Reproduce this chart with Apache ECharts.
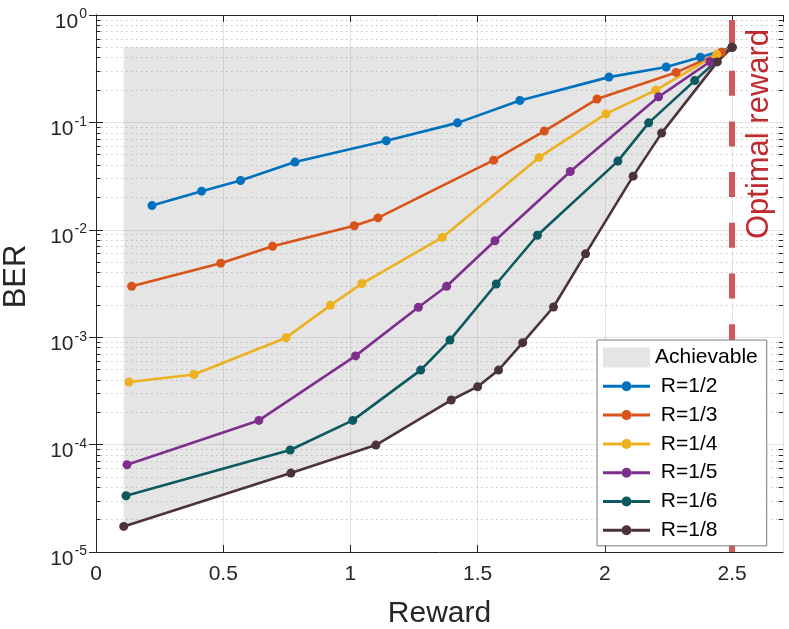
<!DOCTYPE html>
<html>
<head>
<meta charset="utf-8">
<script src="https://cdn.jsdelivr.net/npm/echarts@6/dist/echarts.min.js"></script>
<style>
  html, body { margin: 0; background: #fff; }
  #chart { width: 789px; height: 629px; }
</style>
</head>
<body>
<div id="chart"></div>
<script>
'use strict';
// BER vs reward, one curve per code rate
const rateNames = ['R=1/2', 'R=1/3', 'R=1/4', 'R=1/5', 'R=1/6', 'R=1/8'];
const rateColors = ['#0072bd', '#d95319', '#edb120', '#7e2f8e', '#0d5960', '#4b3337'];

const x12 = [0.22, 0.415, 0.568, 0.782, 1.141, 1.421, 1.666, 2.016, 2.241, 2.375, 2.5];
const y12 = [0.0168, 0.0229, 0.0288, 0.0427, 0.0674, 0.099, 0.160, 0.264, 0.328, 0.405, 0.5];

const x13 = [0.14, 0.49, 0.694, 1.015, 1.108, 1.563, 1.762, 1.969, 2.28, 2.458, 2.5];
const y13 = [0.00298, 0.00489, 0.00703, 0.0109, 0.0129, 0.0445, 0.083, 0.165, 0.292, 0.45, 0.5];

const x14 = [0.13, 0.385, 0.747, 0.921, 1.045, 1.361, 1.741, 2.004, 2.2, 2.44, 2.5];
const y14 = [3.83e-4, 4.5e-4, 9.9e-4, 1.98e-3, 3.16e-3, 8.5e-3, 0.0472, 0.12, 0.2, 0.43, 0.5];

const x15 = [0.122, 0.64, 1.02, 1.267, 1.378, 1.568, 1.864, 2.211, 2.413, 2.5];
const y15 = [6.5e-5, 1.68e-4, 6.7e-4, 1.9e-3, 2.98e-3, 7.9e-3, 0.0349, 0.173, 0.367, 0.5];

const x16 = [0.118, 0.763, 1.009, 1.276, 1.391, 1.573, 1.735, 2.051, 2.172, 2.353, 2.5];
const y16 = [3.34e-5, 8.9e-5, 1.68e-4, 4.94e-4, 9.4e-4, 3.13e-3, 8.9e-3, 0.0436, 0.099, 0.245, 0.5];

const x18 = [0.109, 0.766, 1.1, 1.396, 1.5, 1.582, 1.677, 1.798, 1.924, 2.111, 2.223, 2.442, 2.5];
const y18 = [1.73e-5, 5.43e-5, 9.9e-5, 2.6e-4, 3.46e-4, 4.94e-4, 8.9e-4, 1.91e-3, 5.97e-3, 0.0316, 0.0795, 0.366, 0.5];

const rateX = [x12, x13, x14, x15, x16, x18];
const rateY = [y12, y13, y14, y15, y16, y18];

const optimalReward = 2.5;
const achievableTop = 0.5;   // upper edge of the shaded region
const berMin = 1e-5, berMax = 1;
const rewardMax = 2.7;

// minor log grid: 2..9 x each decade
const minorFactors = [2, 3, 4, 5, 6, 7, 8, 9];
const decades = [1e-5, 1e-4, 1e-3, 1e-2, 1e-1];
const minorVals = [];
decades.forEach((d) => minorFactors.forEach((k) => minorVals.push(k * d)));

// shaded region: flat top at 0.5, lower edge follows the R=1/8 curve
const areaPts = [[x18[0], achievableTop]].concat(x18.map((x, i) => [x, y18[i]]));

const INK = '#262626';
const FONT = 'Liberation Sans, Arial, Helvetica, sans-serif';
// legend icon: line with a dot in the middle
const lineIcon = 'path://M0,8.5H18.5V11.5H0Z M28.5,8.5H47V11.5H28.5Z M18.5,10A5,5 0 1,1 28.5,10A5,5 0 1,1 18.5,10Z';

const chart = echarts.init(document.getElementById('chart'), null, { renderer: 'canvas' });

const rateSeries = rateNames.map((name, s) => ({
  name,
  type: 'line',
  z: 3,
  data: rateX[s].map((x, i) => [x, rateY[s][i]]),
  symbol: 'circle',
  symbolSize: 9,
  lineStyle: { color: rateColors[s], width: 2.6 },
  itemStyle: { color: rateColors[s], borderWidth: 0 },
  emphasis: { disabled: true }
}));

// short horizontal segment helper for markLine (grid lines / minor ticks)
const hseg = (x0, x1, v) => [{ coord: [x0, v] }, { coord: [x1, v] }];

chart.setOption({
  animation: false,
  backgroundColor: '#fff',
  textStyle: { fontFamily: FONT },
  grid: { left: 96, right: 6, top: 15, bottom: 77, outerBoundsMode: 'none', containLabel: false },
  legend: {
    orient: 'vertical',
    left: 597,
    top: 340,
    padding: [7, 9, 5, 6],
    itemWidth: 47,
    itemHeight: 20,
    itemGap: 7.8,
    backgroundColor: '#fff',
    borderColor: '#7a7a7a',
    borderWidth: 1,
    itemStyle: { borderWidth: 0 },
    textStyle: { fontSize: 21, color: '#000', fontFamily: FONT },
    data: [{ name: 'Achievable', icon: 'rect' }].concat(rateNames.map((n) => ({ name: n, icon: lineIcon }))),
    formatter: (n) => (n === 'Achievable' ? n : ' ' + n),
    selectedMode: false
  },
  xAxis: [
    {
      type: 'value', min: 0, max: rewardMax, interval: 0.5,
      axisLine: { show: true, lineStyle: { color: INK, width: 1 } },
      axisTick: { show: true, inside: true, length: 7, lineStyle: { color: INK } },
      axisLabel: { fontSize: 21, color: INK, margin: 12, showMaxLabel: false, formatter: (v) => String(v) },
      splitLine: { show: true, lineStyle: { color: 'rgba(38,38,38,0.13)', width: 1 } },
      name: 'Reward', nameLocation: 'middle', nameGap: 47,
      nameTextStyle: { fontSize: 30, color: INK }
    },
    {
      type: 'value', min: 0, max: rewardMax, interval: 0.5, position: 'top',
      axisLine: { show: true, lineStyle: { color: INK, width: 1 } },
      axisTick: { show: true, inside: true, length: 7, lineStyle: { color: INK } },
      axisLabel: { show: false }, splitLine: { show: false }
    }
  ],
  yAxis: [
    {
      type: 'log', logBase: 10, min: berMin, max: berMax,
      axisLine: { show: true, lineStyle: { color: INK, width: 1 } },
      axisTick: { show: true, inside: true, length: 7, lineStyle: { color: INK } },
      axisLabel: {
        margin: 9,
        formatter: (v) => '{b|10}{s|' + Math.round(Math.log10(v)) + '}',
        rich: {
          b: { fontSize: 21, color: INK, padding: [14, 0, 0, 0] },
          s: { fontSize: 14, color: INK, verticalAlign: 'top', padding: [10, 0, 0, 1] }
        }
      },
      splitLine: { show: true, lineStyle: { color: 'rgba(38,38,38,0.13)', width: 1 } },
      name: 'BER', nameLocation: 'middle', nameGap: 64,
      nameTextStyle: { fontSize: 31, color: INK, padding: [0, 0, 0, 14] }
    },
    {
      type: 'log', logBase: 10, min: berMin, max: berMax, position: 'right',
      axisLine: { show: true, lineStyle: { color: INK, width: 1 } },
      axisTick: { show: true, inside: true, length: 7, lineStyle: { color: INK } },
      axisLabel: { show: false }, splitLine: { show: false }
    }
  ],
  graphic: [
    {
      type: 'text', x: 759, y: 134, rotation: Math.PI / 2, silent: true,
      style: { text: 'Optimal reward', fontSize: 31, fontFamily: FONT, fill: '#bf2a30', align: 'center', verticalAlign: 'middle' }
    }
  ],
  series: [
    {
      name: 'Achievable',
      type: 'custom',
      z: 1,
      silent: true,
      clip: true,
      itemStyle: { color: 'rgba(160,160,160,0.27)' },
      data: [areaPts[0]],
      renderItem: (params, api) => ({
        type: 'polygon',
        shape: { points: areaPts.map((p) => api.coord(p)) },
        style: { fill: api.visual('color') }
      })
    },
    {
      name: 'minorGrid',
      type: 'line',
      data: [],
      silent: true,
      markLine: {
        z: 1, silent: true, symbol: ['none', 'none'], label: { show: false }, emphasis: { disabled: true },
        lineStyle: { type: [1.5, 3.5], color: 'rgba(38,38,38,0.26)', width: 1 },
        data: minorVals.map((v) => hseg(0, rewardMax, v))
      }
    },
    {
      name: 'minorTicks',
      type: 'line',
      data: [],
      silent: true,
      markLine: {
        z: 4, silent: true, symbol: ['none', 'none'], label: { show: false }, emphasis: { disabled: true },
        lineStyle: { type: 'solid', color: INK, width: 1 },
        data: minorVals.map((v) => hseg(0, 0.017, v))
          .concat(minorVals.map((v) => hseg(rewardMax - 0.017, rewardMax, v)))
      }
    },
    {
      name: 'optimal',
      type: 'line',
      data: [],
      silent: true,
      markLine: {
        z: 2, silent: true, symbol: ['none', 'none'], label: { show: false }, emphasis: { disabled: true },
        lineStyle: { type: [25, 25.7], color: '#d1585c', width: 6, cap: 'butt' },
        data: [[{ coord: [optimalReward, berMin] }, { coord: [optimalReward, berMax] }]]
      }
    }
  ].concat(rateSeries)
});
</script>
</body>
</html>
